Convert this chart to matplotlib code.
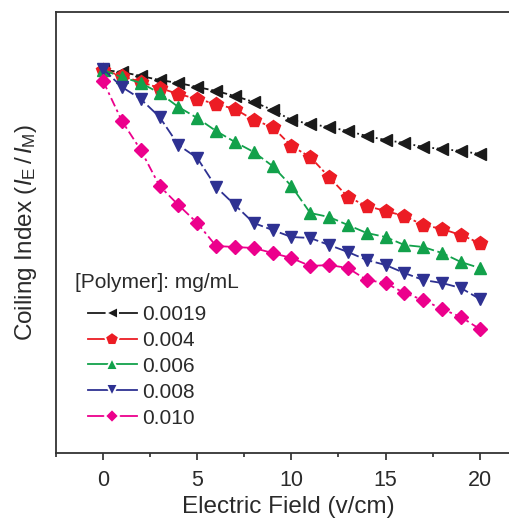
import matplotlib
matplotlib.use("Agg")
import matplotlib.pyplot as plt
from matplotlib.ticker import MultipleLocator, NullLocator

plt.rcParams['font.family'] = ['Liberation Sans', 'DejaVu Sans']
plt.rcParams['mathtext.fontset'] = 'custom'
plt.rcParams['mathtext.rm'] = 'Liberation Sans'
plt.rcParams['mathtext.it'] = 'Liberation Sans:italic'

field = list(range(0, 21))
labels = ['0.0019', '0.004', '0.006', '0.008', '0.010']
# coiling index, arbitrary units
c0019 = [383, 381, 377, 373, 370, 366, 362, 357, 351, 343, 333, 329, 326, 322, 317, 313, 310, 306, 304, 302, 299]
c004 = [383, 377, 371, 365, 359, 354, 349, 344, 333, 326, 307, 296, 276, 256, 247, 242, 237, 228, 224, 218, 210]
c006 = [383, 376, 370, 360, 346, 335, 322, 311, 301, 287, 267, 240, 236, 228, 220, 216, 208, 206, 200, 191, 185]
c008 = [384, 366, 354, 336, 308, 295, 266, 248, 230, 223, 216, 215, 208, 201, 193, 188, 180, 173, 170, 165, 154]
c010 = [372, 332, 303, 267, 248, 230, 207, 206, 205, 200, 195, 187, 188, 185, 173, 170, 160, 153, 144, 136, 124]

series = [c0019, c004, c006, c008, c010]
colors = ['#1a1a1a', '#ec1c24', '#12a14b', '#2e3192', '#ec008c']
markers = ['<', 'p', '^', 'v', 'D']
msizes = [9, 10, 9, 9, 7]
styles = ['-.', (0, (1.5, 1.5, 4, 1.5)), (0, (6, 2)), (0, (6, 2)), (0, (5, 2, 1.5, 2))]
txt = '#2a2a2a'

fig = plt.figure(figsize=(5.1, 5.2), dpi=100)
ax = fig.add_axes([56/510, 67/520, 1.02 - 56/510, (453-12)/520])

for y, c, m, ms, ls in zip(series, colors, markers, msizes, styles):
    ax.plot(field, y, color=c, marker=m, markersize=ms, linestyle=ls,
            linewidth=1.3, markeredgecolor=c)

# legend proxies (solid lines, markers with a small gap)
handles = []
for c, m, ms, lab in zip(colors, markers, msizes, labels):
    h, = ax.plot([], [], color=c, marker=m, markersize=ms * 1.0, linestyle='-',
                 linewidth=1.3, markerfacecolor=c, markeredgecolor='white',
                 markeredgewidth=1.4, label=lab)
    handles.append(h)

ax.set_xlim(-2.5, 22.15)
ax.set_ylim(0, 441)
ax.xaxis.set_major_locator(MultipleLocator(5))
ax.xaxis.set_minor_locator(MultipleLocator(2.5))
ax.yaxis.set_major_locator(NullLocator())
ax.yaxis.set_minor_locator(NullLocator())
ax.tick_params(axis='x', which='major', direction='out', length=5, width=1.2,
               labelsize=15.5, colors=txt, pad=7)
ax.tick_params(axis='x', which='minor', direction='out', length=3, width=1.2, colors=txt)
for s in ax.spines.values():
    s.set_linewidth(1.3)
    s.set_color('#333333')

ax.set_xlabel('Electric Field (v/cm)', fontsize=17.5, color=txt, labelpad=4)
ax.set_ylabel(r'Coiling Index ($\mathit{I}_{\mathrm{E}}\,/\,\mathit{I}_{\mathrm{M}}$)',
              fontsize=17.5, color=txt, labelpad=12)

leg = ax.legend(handles=handles, loc='upper left', bbox_to_anchor=(88/510, 1 - 305/520),
                bbox_transform=fig.transFigure, frameon=False, fontsize=15,
                handlelength=2.35, handletextpad=0.25, labelspacing=0.33,
                borderpad=0, borderaxespad=0)
for t in leg.get_texts():
    t.set_color(txt)
fig.text(75/510, 1 - 283/520, '[Polymer]: mg/mL', fontsize=15, color=txt,
         ha='left', va='center')

fig.savefig('out.png', dpi=100)
